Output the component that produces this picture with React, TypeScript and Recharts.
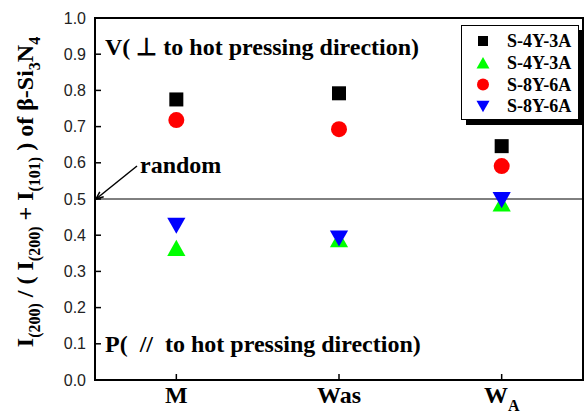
import React from 'react';
import {
  ComposedChart,
  Line,
  XAxis,
  YAxis,
  ReferenceLine,
  ReferenceArea,
} from 'recharts';

const categories = ['M', 'Was', 'WA'];
const s4y3aSquare = [0.775, 0.792, 0.646];
const s4y3aTriUp = [0.365, 0.389, 0.488];
const s8y6aCircle = [0.718, 0.693, 0.591];
const s8y6aTriDown = [0.426, 0.391, 0.497];
const yTicks = [0, 0.1, 0.2, 0.3, 0.4, 0.5, 0.6, 0.7, 0.8, 0.9, 1.0];
const legendNames = ['S-4Y-3A', 'S-4Y-3A', 'S-8Y-6A', 'S-8Y-6A'];

const data = categories.map((cat, i) => ({
  cat,
  sq: s4y3aSquare[i],
  up: s4y3aTriUp[i],
  circ: s8y6aCircle[i],
  down: s8y6aTriDown[i],
}));

const SERIF = '"Liberation Serif", "Times New Roman", serif';
const SANS = '"Liberation Sans", Arial, sans-serif';

const marker = (kind: string, cx: number, cy: number, s: number, key?: any) => {
  if (kind === 'sq') {
    return <rect key={key} x={cx - s / 2} y={cy - s / 2} width={s} height={s} fill="#000" />;
  }
  if (kind === 'circ') {
    return <circle key={key} cx={cx} cy={cy} r={s / 2 + 1} fill="#ff0000" />;
  }
  const w = s * 1.3;
  const h = s * 1.15;
  if (kind === 'up') {
    return (
      <polygon
        key={key}
        points={`${cx - w / 2},${cy + h / 2} ${cx + w / 2},${cy + h / 2} ${cx},${cy - h / 2}`}
        fill="#00ff00"
      />
    );
  }
  return (
    <polygon
      key={key}
      points={`${cx - w / 2},${cy - h / 2} ${cx + w / 2},${cy - h / 2} ${cx},${cy + h / 2}`}
      fill="#0000ff"
    />
  );
};

const dotFor = (kind: string) => (props: any) =>
  marker(kind, props.cx, props.cy, 14, `${kind}-${props.index}`);

// default tickSize 6 + tickMargin 2 => tick anchor sits 8px outside the axis
const LeftTick = (props: any) => {
  const { x, y, payload } = props;
  return (
    <g>
      <line x1={x + 8} x2={x + 14} y1={y} y2={y} stroke="#000" strokeWidth={1.5} />
      <text x={x - 1} y={y + 5.5} textAnchor="end" fontFamily={SANS} fontSize={16} fill="#222">
        {Number(payload.value).toFixed(1)}
      </text>
    </g>
  );
};

const RightTick = (props: any) => {
  const { x, y } = props;
  return <line x1={x - 8} x2={x - 14} y1={y} y2={y} stroke="#000" strokeWidth={1.5} />;
};

const TopTick = (props: any) => {
  const { x, y } = props;
  return <line x1={x} x2={x} y1={y + 8} y2={y + 14} stroke="#000" strokeWidth={1.5} />;
};

const BottomTick = (props: any) => {
  const { x, y, payload } = props;
  const v = payload.value;
  return (
    <g>
      <line x1={x} x2={x} y1={y - 8} y2={y - 14} stroke="#000" strokeWidth={1.5} />
      <text x={x} y={y + 15} textAnchor="middle" fontFamily={SERIF} fontWeight="bold" fontSize={24} fill="#000">
        {v === 'WA' ? (
          <>
            <tspan>W</tspan>
            <tspan fontSize={16} dy={8}>A</tspan>
          </>
        ) : (
          v
        )}
      </text>
    </g>
  );
};

const YLabel = (props: any) => {
  const vb = props.viewBox;
  const cx = vb.x + 33;
  const cy = vb.y + vb.height / 2 - 7;
  return (
    <text
      x={cx}
      y={cy}
      transform={`rotate(-90, ${cx}, ${cy})`}
      textAnchor="middle"
      fontFamily={SERIF}
      fontWeight="bold"
      fontSize={24}
      fill="#000"
    >
      <tspan>I</tspan>
      <tspan fontSize={16} dy={7}>(200)</tspan>
      <tspan dy={-7}> / ( I</tspan>
      <tspan fontSize={16} dy={7}>(200)</tspan>
      <tspan dy={-7}> + I</tspan>
      <tspan fontSize={16} dy={7}>(101)</tspan>
      <tspan dy={-7}> )  of  β-Si</tspan>
      <tspan fontSize={16} dy={7}>3</tspan>
      <tspan dy={-7}>N</tspan>
      <tspan fontSize={16} dy={7}>4</tspan>
    </text>
  );
};

const RandomLabel = (props: any) => {
  const { x, y } = props.viewBox;
  const x1 = x + 42;
  const y1 = y - 33;
  const x2 = x + 1;
  const y2 = y;
  const ang = Math.atan2(y2 - y1, x2 - x1);
  const len = 8;
  const a1 = ang + 0.4;
  const a2 = ang - 0.4;
  return (
    <g>
      <line x1={x1} y1={y1} x2={x2} y2={y2} stroke="#000" strokeWidth={1.5} />
      <polyline
        points={`${x2 - len * Math.cos(a1)},${y2 - len * Math.sin(a1)} ${x2},${y2} ${x2 - len * Math.cos(a2)},${y2 - len * Math.sin(a2)}`}
        fill="none"
        stroke="#000"
        strokeWidth={1.5}
      />
      <text x={x + 45} y={y - 26} fontFamily={SERIF} fontWeight="bold" fontSize={24} fill="#000">
        random
      </text>
    </g>
  );
};

const textLabel = (txt: string, dy: number) => (props: any) => {
  const { x, y } = props.viewBox;
  return (
    <text x={x + 10} y={y + dy} fontFamily={SERIF} fontWeight="bold" fontSize={24} fill="#000" xmlSpace="preserve">
      {txt}
    </text>
  );
};

const LegendBox = () => {
  const kinds = ['sq', 'up', 'circ', 'down'];
  return (
    <div
      style={{
        position: 'absolute',
        left: 461,
        top: 25,
        width: 116,
        height: 93,
        border: '1px solid #000',
        background: '#fff',
        boxShadow: '5px 5px 0 #000',
      }}
    >
      <svg width={116} height={93} style={{ position: 'absolute', left: 0, top: 0 }}>
        {kinds.map((k, i) => (
          <g key={k}>
            {marker(k, 21, 15 + i * 21.8, 10)}
            <text x={45} y={21 + i * 21.8} fontFamily={SERIF} fontWeight="bold" fontSize={18} fill="#000">
              {legendNames[i]}
            </text>
          </g>
        ))}
      </svg>
    </div>
  );
};

export default function App() {
  return (
    <div style={{ position: 'absolute', left: 0, top: 0, width: 584, height: 413, background: '#fff' }}>
      <ComposedChart width={584} height={413} data={data} margin={{ top: 18, right: 1, bottom: 0, left: 0 }}>
        <XAxis dataKey="cat" scale="band" height={33} axisLine={false} tickLine={false} tick={<BottomTick />} />
        <XAxis
          xAxisId="top"
          dataKey="cat"
          scale="band"
          orientation="top"
          height={0}
          axisLine={false}
          tickLine={false}
          tick={<TopTick />}
        />
        <YAxis
          domain={[0, 1]}
          ticks={yTicks}
          width={95}
          axisLine={false}
          tickLine={false}
          tick={<LeftTick />}
          label={{ content: YLabel }}
        />
        <YAxis
          yAxisId="right"
          orientation="right"
          domain={[0, 1]}
          ticks={yTicks}
          width={0}
          axisLine={false}
          tickLine={false}
          tick={<RightTick />}
        />
        <ReferenceArea y1={0} y2={1} fill="none" stroke="#000" strokeWidth={2} ifOverflow="visible" />
        <ReferenceLine y={0.5} stroke="#000" strokeWidth={1} label={{ content: RandomLabel }} />
        <ReferenceLine y={0.9} stroke="none" label={{ content: textLabel('V( \u22A5 to hot pressing direction)', 1) }} />
        <ReferenceLine y={0.1} stroke="none" label={{ content: textLabel('P(  //  to hot pressing direction)', 8) }} />
        <Line
          xAxisId="top"
          yAxisId="right"
          dataKey="sq"
          stroke="none"
          isAnimationActive={false}
          dot={false}
          activeDot={false}
        />
        <Line dataKey="sq" stroke="none" isAnimationActive={false} dot={dotFor('sq')} activeDot={false} />
        <Line dataKey="circ" stroke="none" isAnimationActive={false} dot={dotFor('circ')} activeDot={false} />
        <Line dataKey="up" stroke="none" isAnimationActive={false} dot={dotFor('up')} activeDot={false} />
        <Line dataKey="down" stroke="none" isAnimationActive={false} dot={dotFor('down')} activeDot={false} />
      </ComposedChart>
      <LegendBox />
    </div>
  );
}
